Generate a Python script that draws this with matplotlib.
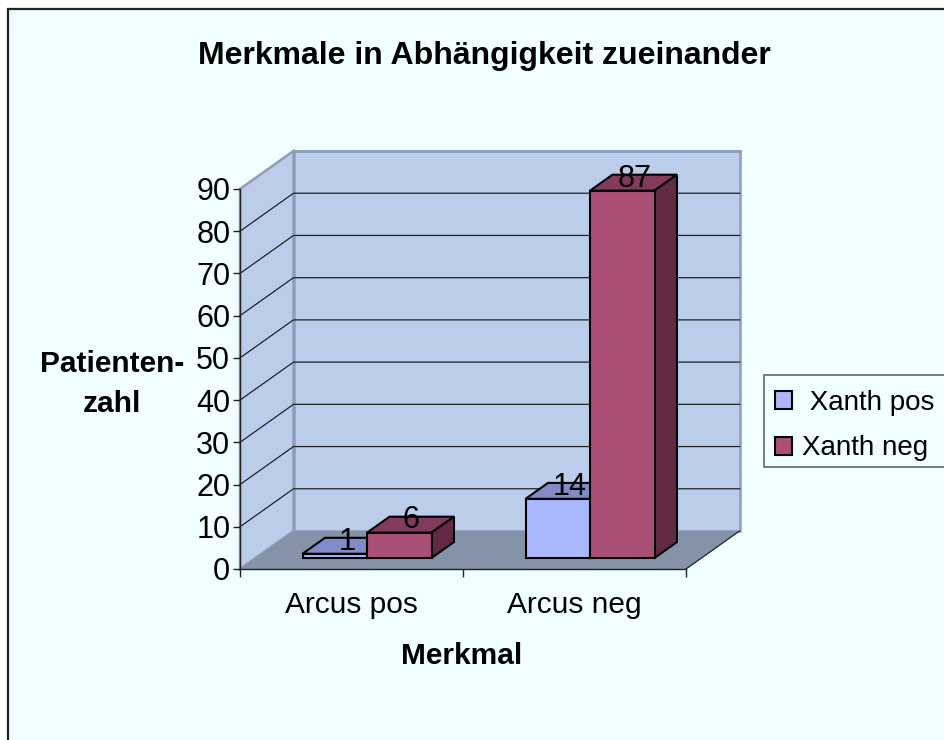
import matplotlib
matplotlib.use("Agg")
import matplotlib.pyplot as plt
from matplotlib.patches import Polygon, Rectangle

plt.rcParams['font.family'] = ['Liberation Sans', 'DejaVu Sans']

categories = ['Arcus pos', 'Arcus neg']
series_names = ['Xanth pos', 'Xanth neg']
xanth_pos = [1, 14]
xanth_neg = [6, 87]
y_ticks = list(range(0, 100, 10))

W, H = 944, 740
BG = '#F0FFFF'
WALL = '#BCCDEB'
FLOOR = '#8593A8'
EDGE = '#8E9DB8'
FRONTS = ['#A9B8FF', '#AA5078']
TOPS = ['#808CC8', '#84395F']
SIDES = ['#6A75A8', '#632A45']

fig = plt.figure(figsize=(W / 100, H / 100), dpi=100, facecolor='white')
fig.add_artist(Rectangle((7.5 / W, -0.1), 1.2, 1.1 - 8.5 / H, transform=fig.transFigure,
                         facecolor=BG, edgecolor='#222222', lw=1.6, zorder=-5))

ax = fig.add_axes([240 / W, (H - 569) / H, (686 - 240) / W, (569 - 189) / H])
ax.set_xlim(0, 2)
ax.set_ylim(0, 90)
ax.patch.set_visible(False)
for s in ('top', 'right'):
    ax.spines[s].set_visible(False)
for s in ('left', 'bottom'):
    ax.spines[s].set_color('#222222')
    ax.spines[s].set_linewidth(1.0)
    ax.spines[s].set_zorder(6)

DX = 53.5 / 223.0   # depth of the chart box in category units
DY = 9.0            # depth of the chart box in value units


def proj(x, y, d):
    return (x + d * DX, y + d * DY)


def poly(pts, fc, ec='none', lw=0.0, z=1):
    ax.add_patch(Polygon(pts, closed=True, facecolor=fc, edgecolor=ec, linewidth=lw,
                         zorder=z, clip_on=False, joinstyle='miter'))


# walls and floor
poly([proj(0, 0, 1), proj(2, 0, 1), proj(2, 90, 1), proj(0, 90, 1)], WALL, EDGE, 1.8, 1)
poly([proj(0, 0, 0), proj(0, 0, 1), proj(0, 90, 1), proj(0, 90, 0)], WALL, EDGE, 1.8, 1)
poly([proj(0, 0, 0), proj(2, 0, 0), proj(2, 0, 1), proj(0, 0, 1)], FLOOR, 'none', 0, 2)

for v in y_ticks[1:-1]:
    xs, ys = zip(proj(0, v, 0), proj(0, v, 1), proj(2, v, 1))
    ax.plot(xs, ys, color='#222222', lw=0.9, zorder=2, clip_on=False)
ax.plot(*zip(proj(0, 90, 1), proj(2, 90, 1)), color=EDGE, lw=1.8, zorder=2, clip_on=False)
ax.plot(*zip(proj(2, 0, 0), proj(2, 0, 1)), color='#222222', lw=0.9, zorder=3, clip_on=False)

# bars
BW = 64.5 / 223.0
D0, D1 = 0.29, 0.71
for s, values in enumerate([xanth_pos, xanth_neg]):
    for c, v in enumerate(values):
        x0 = c + 0.5 - BW + s * BW
        x1 = x0 + BW
        z = 4 + s * 0.1 + c
        kw = dict(ec='black', lw=1.5, z=z)
        poly([proj(x0, v, D0), proj(x1, v, D0), proj(x1, v, D1), proj(x0, v, D1)], TOPS[s], **kw)
        poly([proj(x1, 0, D0), proj(x1, 0, D1), proj(x1, v, D1), proj(x1, v, D0)], SIDES[s], **kw)
        poly([proj(x0, 0, D0), proj(x1, 0, D0), proj(x1, v, D0), proj(x0, v, D0)], FRONTS[s], **kw)
        lx, ly = proj((x0 + x1) / 2, v, 0.5)
        ax.annotate(str(v), (lx, ly), xytext=(0.6, 3.0), textcoords='offset points',
                    ha='center', va='center', fontsize=22, color='black', zorder=10,
                    annotation_clip=False)

# axes ticks
ax.set_yticks(y_ticks)
ax.tick_params(axis='y', direction='out', length=5, width=1.0, color='#222222',
               labelsize=22, pad=2)
ax.set_xticks([0, 1, 2])
ax.set_xticklabels([])
ax.tick_params(axis='x', which='major', direction='out', length=6, width=1.0, color='#222222')
ax.set_xticks([0.5, 1.5], minor=True)
ax.set_xticklabels(categories, minor=True, fontsize=21.5)
ax.tick_params(axis='x', which='minor', length=0, pad=16)


def fx(px):
    return px / W


def fy(py):
    return 1 - py / H


fig.text(fx(484), fy(56), 'Merkmale in Abhängigkeit zueinander', ha='center', va='center',
         fontsize=23, fontweight='bold')
fig.text(fx(462), fy(656), 'Merkmal', ha='center', va='center', fontsize=21.5, fontweight='bold')
fig.text(fx(112), fy(364), 'Patienten-', ha='center', va='center', fontsize=21.5, fontweight='bold')
fig.text(fx(112), fy(404), 'zahl', ha='center', va='center', fontsize=21.5, fontweight='bold')

# legend
fig.add_artist(Rectangle((fx(764), fy(467)), 0.3, (467 - 375) / H, transform=fig.transFigure,
                         facecolor=BG, edgecolor='#666666', lw=1.2, zorder=-4))
handles = [Rectangle((0, 0), 1, 1, facecolor=FRONTS[i], edgecolor='black', lw=1.5) for i in range(2)]
labels = [' ' + series_names[0], series_names[1]]
leg = fig.legend(handles, labels, loc='upper left',
                 bbox_to_anchor=(fx(761), fy(376)), bbox_transform=fig.transFigure,
                 fontsize=20, frameon=False, borderaxespad=0, borderpad=0.5, handlelength=0.6,
                 handleheight=0.62, handletextpad=0.36, labelspacing=0.7)

fig.savefig('out.png', dpi=100, facecolor=fig.get_facecolor())
